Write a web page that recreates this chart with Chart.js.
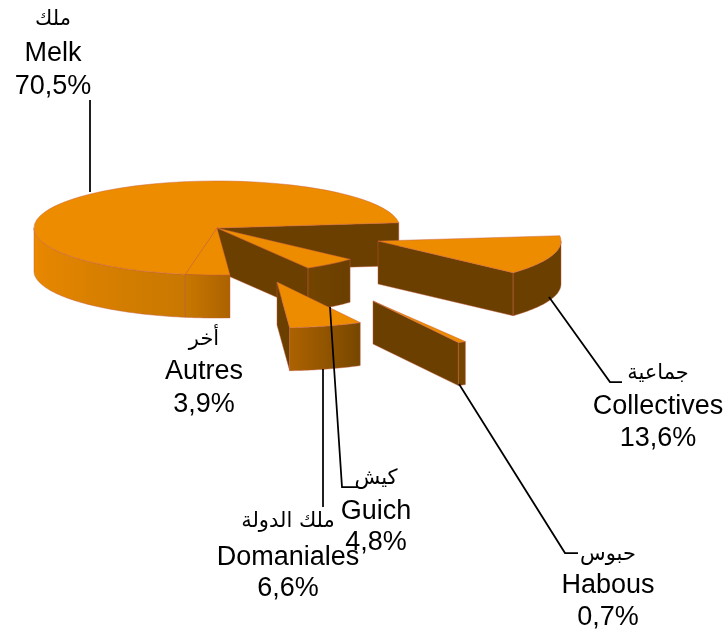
<!DOCTYPE html>
<html><head><meta charset="utf-8">
<style>html,body{margin:0;padding:0;background:#fff}#w{width:728px;height:634px}</style>
<script src="https://cdn.jsdelivr.net/npm/chart.js@4"></script>
</head><body><div id="w"><canvas id="c"></canvas></div>
<script>
const categories = ['Collectives','Guich','Habous','Domaniales','Autres','Melk'];
const arabicNames = ['جماعية','كيش','حبوس','ملك الدولة','أخر','ملك'];
const shares = [13.6,4.8,0.7,6.6,3.9,70.5];

const TOP='#EE8C00', DARK='#6B3F00', EDGE='rgba(196,92,64,0.6)';
const CX=217, CY=228, R=183, K=0.257, DEPTH=43;
const shiftX=[161,0,156,60,0,0], shiftY=[13,0,73,54,0,0], sizeScale=[1,0.985,1,0.975,1,1];
const paintOrder=[5,1,4,3,2,0];
const textX=[658,376,608,288,204,53];
const textY=[374,479,555,522,340,20];
const lineGaps=[[33,65],[33,64],[31,63],[36,67],[32,65],[34,67]];
const leaders=[[[549,297],[610,382],[622,382]],[[330,307],[342,487],[357,487]],[[459,384],[565,553],[578,553]],[[323,369],[323,507]],[],[[90,192],[90,100]]];

const shadeStops=[[45,[107,63,0]],[61,[116,69,0]],[86,[172,98,0]],[100,[200,120,0]],[150,[226,132,0]],[180,[236,139,0]]];
function shade(deg){
  if(deg<=shadeStops[0][0])return 'rgb('+shadeStops[0][1]+')';
  for(let i=1;i<shadeStops.length;i++){
    if(deg<=shadeStops[i][0]){
      const [d0,c0]=shadeStops[i-1],[d1,c1]=shadeStops[i],t=(deg-d0)/(d1-d0);
      return 'rgb('+c0.map((v,j)=>Math.round(v+(c1[j]-v)*t)).join(',')+')';
    }
  }
  return 'rgb('+shadeStops[shadeStops.length-1][1]+')';
}
const pie3d={id:'pie3d',
  beforeDatasetsDraw(chart){
    const ctx=chart.ctx, arcs=chart.getDatasetMeta(0).data;
    paintOrder.forEach(i=>{
      const arc=arcs[i], a1=arc.startAngle, a2=arc.endAngle, s=sizeScale[i], rad=arc.outerRadius*s;
      const ox=CX+shiftX[i], oy=CY+shiftY[i];
      const px=(a,d)=>[ox+rad*Math.cos(a), oy+rad*K*Math.sin(a)+(d||0)];
      const face=a=>{
        const p=px(a),q=px(a,DEPTH);
        ctx.beginPath();ctx.moveTo(ox,oy);ctx.lineTo(p[0],p[1]);ctx.lineTo(q[0],q[1]);ctx.lineTo(ox,oy+DEPTH);ctx.closePath();
        ctx.fillStyle=DARK;ctx.fill();ctx.strokeStyle=EDGE;ctx.lineWidth=0.75;ctx.stroke();
      };
      if(Math.sin(a1-Math.PI/2)>0)face(a1);
      if(Math.cos(a2)>0)face(a2);
      const b1=Math.max(a1,0), b2=Math.min(a2,Math.PI);
      if(b2>b1){
        const n=Math.max(8,Math.round((b2-b1)*60));
        ctx.beginPath();
        for(let j=0;j<=n;j++){const p=px(b1+(b2-b1)*j/n);j?ctx.lineTo(p[0],p[1]):ctx.moveTo(p[0],p[1]);}
        for(let j=n;j>=0;j--){const p=px(b1+(b2-b1)*j/n,DEPTH);ctx.lineTo(p[0],p[1]);}
        ctx.closePath();
        const x1=px(b1)[0], x2=px(b2)[0];
        const g=ctx.createLinearGradient(x1,0,x2,0);
        for(let j=0;j<=16;j++){
          const a=b1+(b2-b1)*j/16;
          g.addColorStop(Math.min(1,Math.max(0,(px(a)[0]-x1)/(x2-x1))),shade(a*180/Math.PI));
        }
        ctx.fillStyle=g;ctx.fill();ctx.strokeStyle=EDGE;ctx.lineWidth=0.75;ctx.stroke();
      }
      ctx.save();
      ctx.translate(ox,oy);ctx.scale(s,K*s);ctx.translate(-arc.x,-arc.y);
      arc.draw(ctx);
      ctx.restore();
      ctx.beginPath();ctx.moveTo(ox,oy);
      const n=Math.max(8,Math.round((a2-a1)*60));
      for(let j=0;j<=n;j++){const p=px(a1+(a2-a1)*j/n);ctx.lineTo(p[0],p[1]);}
      ctx.closePath();ctx.strokeStyle=EDGE;ctx.lineWidth=0.75;ctx.stroke();
    });
    return false;
  },
  afterDraw(chart){
    const ctx=chart.ctx;
    ctx.save();
    ctx.strokeStyle='#000';ctx.lineWidth=1.75;
    leaders.forEach(l=>{if(!l.length)return;ctx.beginPath();l.forEach((p,j)=>j?ctx.lineTo(p[0],p[1]):ctx.moveTo(p[0],p[1]));ctx.stroke();});
    ctx.fillStyle='#000';ctx.textAlign='center';ctx.textBaseline='middle';
    categories.forEach((name,i)=>{
      const x=textX[i], y=textY[i];
      ctx.font='21px "DejaVu Sans"';
      ctx.fillText(arabicNames[i],x,y);
      ctx.font='27px "Liberation Sans"';
      ctx.fillText(name,x,y+lineGaps[i][0]);
      ctx.fillText(shares[i].toFixed(1).replace('.',',')+'%',x,y+lineGaps[i][1]);
    });
    ctx.restore();
  }
};
new Chart(document.getElementById('c'),{
  type:'pie',
  data:{labels:categories,datasets:[{data:shares,backgroundColor:TOP,borderWidth:0}]},
  options:{responsive:true,maintainAspectRatio:false,animation:false,rotation:83.5,radius:R,
    layout:{padding:0},plugins:{legend:{display:false},tooltip:{enabled:false}},events:[]},
  plugins:[pie3d]
});
</script></body></html>
